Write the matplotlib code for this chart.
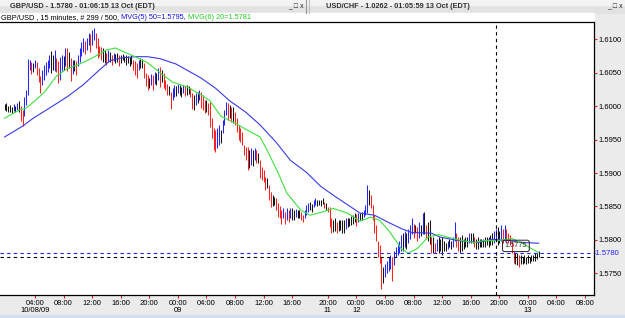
import matplotlib
matplotlib.use("Agg")
import matplotlib.pyplot as plt
import numpy as np
from matplotlib.patches import Rectangle
from matplotlib.transforms import blended_transform_factory

plt.rcParams['font.family'] = ['Liberation Sans', 'DejaVu Sans']

# GBP/USD 15 minute bars (high, low), bar 0 .. 299
bar_high = [
    1.6003, 1.6004, 1.6000, 1.6002, 1.5999, 1.6003, 1.6000, 1.6005, 1.6008, 1.6000,
    1.5994, 1.6014, 1.6024, 1.6071, 1.6069, 1.6066, 1.6065, 1.6069, 1.6066, 1.6057,
    1.6045, 1.6054, 1.6062, 1.6066, 1.6069, 1.6077, 1.6083, 1.6077, 1.6084, 1.6072,
    1.6068, 1.6074, 1.6077, 1.6075, 1.6087, 1.6087, 1.6081, 1.6072, 1.6069, 1.6069,
    1.6068, 1.6077, 1.6087, 1.6096, 1.6102, 1.6098, 1.6102, 1.6110, 1.6108, 1.6114,
    1.6117, 1.6110, 1.6102, 1.6090, 1.6089, 1.6087, 1.6084, 1.6080, 1.6084, 1.6081,
    1.6077, 1.6080, 1.6078, 1.6080, 1.6077, 1.6077, 1.6078, 1.6075, 1.6077, 1.6075,
    1.6074, 1.6077, 1.6069, 1.6068, 1.6065, 1.6069, 1.6072, 1.6071, 1.6065, 1.6050,
    1.6047, 1.6042, 1.6048, 1.6047, 1.6051, 1.6050, 1.6057, 1.6059, 1.6054, 1.6050,
    1.6039, 1.6033, 1.6030, 1.6021, 1.6027, 1.6032, 1.6030, 1.6033, 1.6032, 1.6029,
    1.6032, 1.6030, 1.6032, 1.6030, 1.6027, 1.6020, 1.6017, 1.6020, 1.6021, 1.6024,
    1.6021, 1.6017, 1.6009, 1.6009, 1.6005, 1.6006, 1.5982, 1.5967, 1.5964, 1.5967,
    1.5972, 1.5964, 1.5979, 1.5994, 1.6006, 1.6005, 1.6002, 1.5999, 1.5999, 1.5991,
    1.5982, 1.5972, 1.5967, 1.5961, 1.5942, 1.5939, 1.5939, 1.5934, 1.5937, 1.5934,
    1.5937, 1.5934, 1.5930, 1.5919, 1.5909, 1.5904, 1.5894, 1.5892, 1.5882, 1.5871,
    1.5867, 1.5864, 1.5862, 1.5855, 1.5850, 1.5844, 1.5847, 1.5841, 1.5847, 1.5844,
    1.5847, 1.5847, 1.5844, 1.5846, 1.5844, 1.5844, 1.5841, 1.5837, 1.5844, 1.5852,
    1.5855, 1.5856, 1.5853, 1.5859, 1.5862, 1.5859, 1.5859, 1.5860, 1.5862, 1.5856,
    1.5855, 1.5849, 1.5849, 1.5832, 1.5829, 1.5832, 1.5826, 1.5829, 1.5830, 1.5829,
    1.5829, 1.5832, 1.5833, 1.5832, 1.5835, 1.5837, 1.5840, 1.5838, 1.5840, 1.5840,
    1.5841, 1.5844, 1.5852, 1.5882, 1.5874, 1.5867, 1.5852, 1.5837, 1.5822, 1.5799,
    1.5792, 1.5774, 1.5759, 1.5764, 1.5769, 1.5774, 1.5777, 1.5774, 1.5784, 1.5789,
    1.5792, 1.5799, 1.5807, 1.5811, 1.5814, 1.5810, 1.5817, 1.5822, 1.5833, 1.5824,
    1.5822, 1.5819, 1.5826, 1.5822, 1.5840, 1.5841, 1.5822, 1.5826, 1.5829, 1.5804,
    1.5804, 1.5795, 1.5802, 1.5804, 1.5802, 1.5804, 1.5799, 1.5795, 1.5799, 1.5802,
    1.5799, 1.5804, 1.5826, 1.5811, 1.5804, 1.5804, 1.5807, 1.5802, 1.5804, 1.5805,
    1.5811, 1.5811, 1.5811, 1.5804, 1.5802, 1.5804, 1.5802, 1.5802, 1.5802, 1.5804,
    1.5805, 1.5805, 1.5807, 1.5810, 1.5814, 1.5817, 1.5819, 1.5814, 1.5822, 1.5817,
    1.5822, 1.5817, 1.5811, 1.5807, 1.5799, 1.5784, 1.5781, 1.5780, 1.5777, 1.5777,
    1.5775, 1.5777, 1.5774, 1.5777, 1.5775, 1.5778, 1.5777, 1.5780, 1.5781, 1.5783,
]
bar_low = [
    1.5994, 1.5993, 1.5991, 1.5991, 1.5990, 1.5993, 1.5991, 1.5994, 1.5991, 1.5978,
    1.5970, 1.5985, 1.6002, 1.6017, 1.6054, 1.6048, 1.6051, 1.6057, 1.6047, 1.6036,
    1.6020, 1.6032, 1.6039, 1.6047, 1.6051, 1.6057, 1.6050, 1.6054, 1.6053, 1.6051,
    1.6035, 1.6039, 1.6053, 1.6054, 1.6060, 1.6053, 1.6057, 1.6038, 1.6048, 1.6053,
    1.6047, 1.6060, 1.6066, 1.6075, 1.6081, 1.6078, 1.6084, 1.6092, 1.6081, 1.6092,
    1.6099, 1.6087, 1.6072, 1.6075, 1.6069, 1.6066, 1.6065, 1.6062, 1.6066, 1.6066,
    1.6062, 1.6068, 1.6065, 1.6066, 1.6060, 1.6065, 1.6069, 1.6066, 1.6062, 1.6065,
    1.6060, 1.6063, 1.6054, 1.6047, 1.6042, 1.6054, 1.6057, 1.6057, 1.6042, 1.6030,
    1.6024, 1.6027, 1.6032, 1.6024, 1.6033, 1.6032, 1.6039, 1.6029, 1.6036, 1.6027,
    1.6024, 1.6017, 1.6017, 1.5996, 1.6009, 1.6014, 1.6015, 1.6020, 1.6017, 1.6014,
    1.6020, 1.6015, 1.6017, 1.6018, 1.6014, 1.5996, 1.5994, 1.6002, 1.6005, 1.6009,
    1.5997, 1.5994, 1.5990, 1.5991, 1.5987, 1.5969, 1.5952, 1.5934, 1.5931, 1.5937,
    1.5942, 1.5945, 1.5960, 1.5972, 1.5987, 1.5979, 1.5982, 1.5976, 1.5975, 1.5972,
    1.5961, 1.5949, 1.5946, 1.5942, 1.5927, 1.5919, 1.5904, 1.5907, 1.5912, 1.5910,
    1.5919, 1.5915, 1.5915, 1.5892, 1.5889, 1.5886, 1.5874, 1.5877, 1.5859, 1.5849,
    1.5850, 1.5852, 1.5844, 1.5834, 1.5832, 1.5824, 1.5832, 1.5824, 1.5829, 1.5826,
    1.5832, 1.5829, 1.5830, 1.5834, 1.5832, 1.5832, 1.5829, 1.5826, 1.5832, 1.5837,
    1.5841, 1.5844, 1.5841, 1.5849, 1.5852, 1.5850, 1.5852, 1.5850, 1.5854, 1.5847,
    1.5844, 1.5841, 1.5819, 1.5811, 1.5812, 1.5814, 1.5811, 1.5814, 1.5815, 1.5811,
    1.5811, 1.5817, 1.5820, 1.5821, 1.5823, 1.5824, 1.5826, 1.5821, 1.5827, 1.5829,
    1.5830, 1.5834, 1.5837, 1.5840, 1.5852, 1.5847, 1.5829, 1.5811, 1.5799, 1.5774,
    1.5766, 1.5727, 1.5736, 1.5744, 1.5751, 1.5754, 1.5757, 1.5739, 1.5762, 1.5774,
    1.5777, 1.5781, 1.5784, 1.5784, 1.5789, 1.5787, 1.5796, 1.5802, 1.5809, 1.5803,
    1.5811, 1.5799, 1.5803, 1.5806, 1.5809, 1.5809, 1.5802, 1.5799, 1.5794, 1.5780,
    1.5780, 1.5780, 1.5784, 1.5781, 1.5784, 1.5777, 1.5784, 1.5784, 1.5787, 1.5789,
    1.5787, 1.5789, 1.5799, 1.5789, 1.5784, 1.5781, 1.5784, 1.5787, 1.5789, 1.5790,
    1.5795, 1.5795, 1.5795, 1.5789, 1.5787, 1.5787, 1.5789, 1.5790, 1.5789, 1.5790,
    1.5792, 1.5790, 1.5792, 1.5792, 1.5795, 1.5799, 1.5792, 1.5796, 1.5799, 1.5796,
    1.5799, 1.5796, 1.5795, 1.5792, 1.5781, 1.5766, 1.5764, 1.5762, 1.5759, 1.5764,
    1.5764, 1.5766, 1.5764, 1.5766, 1.5766, 1.5768, 1.5769, 1.5769, 1.5772, 1.5775,
]

# MVG(5) 50 (blue) and MVG(6) 20 (green), read at sample bars
ma50_bar = [0, 10, 16, 25, 35, 44, 53, 59, 65, 73, 80, 87, 96, 104, 110, 118, 126,
            135, 143, 152, 160, 169, 177, 185, 194, 199, 207, 215, 222, 228, 239,
            244, 254, 265, 273, 282, 291, 299]
ma50_val = [1.5954, 1.5970, 1.5982, 1.5997, 1.6014, 1.6032, 1.6054, 1.6068, 1.6072,
            1.6074, 1.6074, 1.6071, 1.6063, 1.6051, 1.6042, 1.6027, 1.6008, 1.5991,
            1.5972, 1.5946, 1.5919, 1.5901, 1.5880, 1.5865, 1.5849, 1.5840, 1.5837,
            1.5826, 1.5817, 1.5811, 1.5810, 1.5804, 1.5799, 1.5796, 1.5801, 1.5799,
            1.5796, 1.5795]
ma20_bar = [0, 8, 12, 16, 22, 29, 35, 42, 49, 57, 62, 67, 73, 80, 87, 94, 102, 110,
            115, 121, 128, 138, 143, 147, 153, 158, 166, 171, 177, 184, 192, 199, 205,
            210, 215, 219, 222, 226, 231, 237, 243, 248, 256, 263, 268, 276, 284, 289,
            295, 299]
ma20_val = [1.5982, 1.5994, 1.5997, 1.6006, 1.6020, 1.6045, 1.6056, 1.6063, 1.6072,
            1.6084, 1.6087, 1.6081, 1.6074, 1.6065, 1.6050, 1.6036, 1.6029, 1.6017,
            1.6008, 1.5985, 1.5976, 1.5961, 1.5954, 1.5934, 1.5901, 1.5870, 1.5844,
            1.5837, 1.5841, 1.5847, 1.5840, 1.5828, 1.5834, 1.5829, 1.5814, 1.5799,
            1.5787, 1.5780, 1.5787, 1.5804, 1.5808, 1.5804, 1.5799, 1.5796, 1.5799,
            1.5799, 1.5802, 1.5796, 1.5787, 1.5781]

tick_bars = [17, 33, 49, 65, 81, 97, 113, 129, 145, 161, 181, 197, 213, 229, 245,
             261, 277, 293, 309, 325]
tick_labels = ["04:00\n10/08/09", "08:00", "12:00", "16:00", "20:00", "00:00\n09",
               "04:00", "08:00", "12:00", "16:00", "20:00\n11", "00:00\n12", "04:00",
               "08:00", "12:00", "16:00", "20:00", "00:00\n13", "04:00", "08:00"]
price_ticks = [1.5750, 1.5800, 1.5850, 1.5900, 1.5950, 1.6000, 1.6050, 1.6100]

last_price = 1.5780
cursor_price = 1.5775
cursor_bar = 275

W, H = 625, 318
fig = plt.figure(figsize=(W / 100, H / 100), dpi=100)
fig.patch.set_facecolor('#ebebeb')

# window chrome drawn in pixel coordinates
chrome = fig.add_axes([0, 0, 1, 1])
chrome.set_xlim(0, W)
chrome.set_ylim(H, 0)
chrome.axis('off')
chrome.add_patch(Rectangle((0, 0), W, 13, color='#e2e2e2'))
chrome.add_patch(Rectangle((0, 0), W, 5, color='#f3f3f3'))
chrome.add_patch(Rectangle((0, 13), 594, 10, color='white'))
chrome.add_patch(Rectangle((0, 315), W, 3, color='#d3def0'))
chrome.plot([306, 306], [0, 13], color='#9a9a9a', lw=0.8)
chrome.plot([309, 309], [0, 13], color='#c0c0c0', lw=0.8)
chrome.text(10, 7, "GBP/USD - 1.5780 - 01:06:15 13 Oct (EDT)", fontsize=5.3,
            fontweight='bold', color='#303030', va='center')
chrome.text(326, 7, "USD/CHF - 1.0262 - 01:05:59 13 Oct (EDT)", fontsize=5.3,
            fontweight='bold', color='#303030', va='center')
chrome.text(304, 7, "_ \u25a1 x", fontsize=5, color='#202020', va='center', ha='right')
chrome.text(623, 7, "_ \u25a1 x", fontsize=5, color='#202020', va='center', ha='right')

# info line: black, blue and green parts placed one after another
t1 = chrome.text(1, 17.5, "GBP/USD , 15 minutes, # 299 / 500, ", fontsize=5.3,
                 color='black', va='center')
t2 = chrome.annotate("MVG(5) 50=1.5795, ", xy=(1, 0.5), xycoords=t1, fontsize=5.3,
                     color='#1010e0', va='center', ha='left')
chrome.annotate("MVG(6) 20=1.5781", xy=(1, 0.5), xycoords=t2, fontsize=5.3,
                color='#22cc22', va='center', ha='left')

ax = fig.add_axes([0, 23 / H, 594 / W, 273 / H])
ax.set_facecolor('white')

x = np.arange(len(bar_high))
hi = np.array(bar_high)
lo = np.array(bar_low)
mid = (hi + lo) / 2
change = np.diff(mid, prepend=mid[0])
colors = np.where(change > 0.0003, '#2525ff', np.where(change < -0.0003, '#ff2020', '#151515'))
ax.vlines(x, lo, hi, colors=colors, linewidth=0.75, zorder=3)

ax.plot(ma50_bar, ma50_val, color='#3a3ae6', lw=0.8, zorder=4)
ax.plot(ma20_bar, ma20_val, color='#3ee03e', lw=0.8, zorder=4)

ax.axhline(last_price, color='#2020ff', lw=0.8, ls=(0, (3, 3)), zorder=5)
ax.axhline(cursor_price, color='black', lw=0.8, ls=(0, (3, 3)), zorder=5)
ax.axvline(cursor_bar, color='black', lw=0.8, ls=(0, (3, 3)), zorder=5)
ax.text(cursor_bar + 5, 1.5791, "1.5775", fontsize=5.3, color='#333333',
        va='center', ha='left', zorder=6,
        bbox=dict(boxstyle='round,pad=0.3', fc='none', ec='#222222', lw=0.7))

ax.set_xlim(-2.6, 330)
ax.set_ylim(1.571756, 1.612588)

ax.set_xticks(tick_bars)
ax.set_xticklabels(tick_labels, fontsize=5.5, linespacing=1.1)
ax.yaxis.tick_right()
ax.set_yticks(price_ticks)
ax.set_yticklabels(["%.4f" % p for p in price_ticks], fontsize=5.5)
ax.tick_params(axis='both', colors='#e02020', labelcolor='black', length=2.5,
               width=0.8, pad=1)

tr = blended_transform_factory(ax.transAxes, ax.transData)
ax.text(1.0, last_price, "-1.5780", transform=tr, fontsize=5.5, color='#2020ff',
        va='center', ha='left', clip_on=False)

for side in ['top', 'right', 'bottom']:
    ax.spines[side].set_color('black')
    ax.spines[side].set_linewidth(0.9)
ax.spines['left'].set_visible(False)

fig.savefig('out.png', dpi=100, facecolor=fig.get_facecolor())
